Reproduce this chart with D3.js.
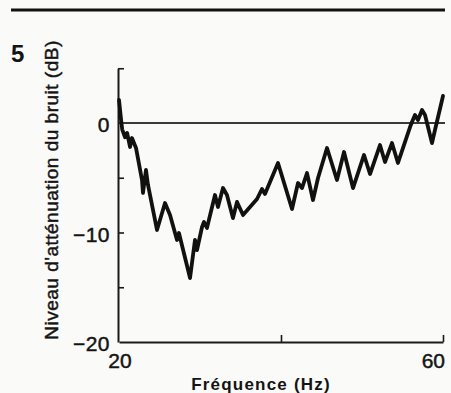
<!DOCTYPE html>
<html>
<head>
<meta charset="utf-8">
<script src="https://cdn.jsdelivr.net/npm/d3@7"></script>
<style>
  body { margin: 0; background: #fafaf8; }
  svg { display: block; }
  text { font-family: "Liberation Sans", Arial, Helvetica, sans-serif; fill: #141414; }
  .axis path, .axis line { stroke: #1a1a1a; }
  .lab { stroke: #141414; stroke-width: 0.45px; }
</style>
</head>
<body>
<svg id="chart"></svg>
<script>
// frequency (Hz) and noise attenuation level (dB)
var freq = [20.0, 20.3, 20.4, 20.75, 21.0, 21.36, 21.6, 22.1, 22.84, 22.96,
            23.33, 23.58, 24.69, 25.68, 26.30, 27.16, 27.40, 28.77, 29.38, 29.63,
            30.25, 30.49, 30.86, 31.85, 32.22, 32.84, 33.33, 34.07, 34.57, 35.31,
            37.04, 37.65, 38.02, 39.63, 41.36, 42.10, 42.59, 43.21, 43.95, 44.57,
            45.68, 46.91, 47.78, 48.89, 50.25, 50.99, 52.22, 52.84, 53.70, 54.44,
            55.93, 56.17, 56.54, 56.91, 57.41, 57.78, 58.64, 59.01, 60.0];
var level = [2.1, 0.0, -0.6, -1.3, -0.9, -2.19, -1.37, -2.28, -5.21, -6.39,
             -4.29, -5.66, -9.77, -7.31, -8.40, -10.68, -10.05, -14.16, -10.68, -11.60,
             -9.50, -9.04, -9.59, -6.58, -7.67, -5.94, -6.58, -8.68, -7.21, -8.40,
             -6.94, -6.03, -6.48, -3.65, -7.85, -5.48, -5.94, -4.57, -7.03, -5.02,
             -2.28, -5.21, -2.65, -5.94, -2.92, -4.66, -2.01, -3.56, -1.83, -3.65,
             -0.37, 0.09, 0.73, 0.27, 1.19, 0.73, -1.83, -0.64, 2.47];

var yLabelTicks = [0, -10, -20];
var yMarkTicks = [5, -5, -10, -15];
var xMarkTicks = [40, 60];
var xLabelTicks = [20, 60];

var W = 451, H = 393;
var svg = d3.select('#chart').attr('width', W).attr('height', H);

var x = d3.scaleLinear().domain([20, 60]).range([119, 443]);
var y = d3.scaleLinear().domain([-20, 5]).range([342, 68.25]);

// rule across the top of the page
svg.append('line')
   .attr('x1', 11).attr('x2', 445)
   .attr('y1', 10).attr('y2', 10)
   .attr('stroke', '#111').attr('stroke-width', 3);

// figure number
svg.append('text')
   .attr('x', 11).attr('y', 62)
   .style('font-size', '24px').style('font-weight', 'bold')
   .text('5');

// zero reference line
svg.append('line')
   .attr('x1', x(20)).attr('x2', 445)
   .attr('y1', y(0)).attr('y2', y(0))
   .attr('stroke', '#3a3a3a').attr('stroke-width', 1.8);

// y axis: line with inner tick marks
var yAxis = d3.axisRight(y)
              .tickValues(yMarkTicks)
              .tickSizeInner(6)
              .tickSizeOuter(0)
              .tickFormat('');
svg.append('g')
   .attr('class', 'axis')
   .attr('transform', 'translate(' + (x(20) - 1) + ',0)')
   .call(yAxis)
   .call(function(g) { g.selectAll('path').attr('stroke-width', 2); g.selectAll('line').attr('stroke-width', 1.6); });

// y tick labels
var yLab = d3.axisLeft(y)
             .tickValues(yLabelTicks)
             .tickSize(0)
             .tickPadding(8);
svg.append('g')
   .attr('class', 'axis')
   .attr('transform', 'translate(' + (x(20) - 1) + ',2)')
   .call(yLab)
   .call(function(g) {
       g.select('.domain').remove();
       g.selectAll('text').attr('class', 'lab').style('font-size', '21px').style('letter-spacing', '0.5px');
   });

// x axis: line with ticks pointing up
var xAxis = d3.axisTop(x)
              .tickValues(xMarkTicks)
              .tickSizeInner(7)
              .tickSizeOuter(0)
              .tickFormat('');
svg.append('g')
   .attr('class', 'axis')
   .attr('transform', 'translate(0,' + y(-20) + ')')
   .call(xAxis)
   .call(function(g) { g.selectAll('path').attr('stroke-width', 2); g.selectAll('line').attr('stroke-width', 1.6); });

// x tick labels
svg.selectAll('.xlab')
   .data(xLabelTicks)
   .enter().append('text')
   .attr('class', 'xlab lab')
   .attr('x', function(d) { return d === 60 ? x(d) + 2 : x(d) + 1; })
   .attr('y', 368)
   .attr('text-anchor', function(d) { return d === 60 ? 'end' : 'middle'; })
   .style('font-size', '21px')
   .text(function(d) { return d; });

// axis titles
svg.append('text')
   .attr('x', 261).attr('y', 390)
   .attr('text-anchor', 'middle')
   .style('font-size', '17px').style('font-weight', 'bold')
   .style('letter-spacing', '1.2px')
   .text('Fréquence (Hz)');

svg.append('text')
   .attr('class', 'lab')
   .attr('transform', 'translate(58,190) rotate(-90)')
   .attr('text-anchor', 'middle')
   .style('font-size', '19px')
   .style('letter-spacing', '0.5px')
   .text("Niveau d'atténuation du bruit (dB)");

// measured curve
var line = d3.line()
             .x(function(d, i) { return x(freq[i]); })
             .y(function(d) { return y(d); });

svg.append('path')
   .datum(level)
   .attr('d', line)
   .attr('fill', 'none')
   .attr('stroke', '#111')
   .attr('stroke-width', 3.8)
   .attr('stroke-linejoin', 'round')
   .attr('stroke-linecap', 'round');
</script>
</body>
</html>
